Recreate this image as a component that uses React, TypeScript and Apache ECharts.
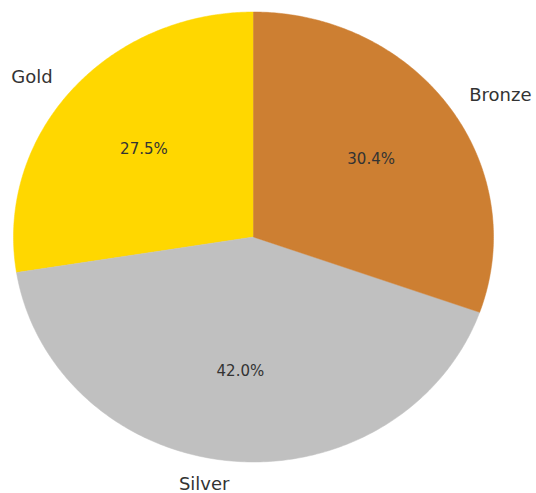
import React, { useEffect, useRef } from "react";
import * as echarts from "echarts";

const categories = ["Gold", "Silver", "Bronze"];
const values = [27.5, 42.0, 30.4];
const colors = ["#FFD700", "#C0C0C0", "#CD7F32"];

const CX = 253.5;
const CY = 237;
const RX = 240;
const RY = 225;
const START = 90;

export default function App() {
  const ref = useRef<HTMLDivElement>(null);
  useEffect(() => {
    document.body.style.margin = "0";
    const chart = echarts.init(ref.current!, null, { renderer: "svg" });
    const total = values.reduce((a, b) => a + b, 0);
    const starts: number[] = [];
    let acc = 0;
    values.forEach((v) => {
      starts.push(START + (acc / total) * 360);
      acc += v;
    });
    const pt = (deg: number, f: number) => {
      const r = (deg * Math.PI) / 180;
      return [CX + Math.cos(r) * RX * f, CY - Math.sin(r) * RY * f];
    };
    chart.setOption({
      animation: false,
      series: [
        {
          type: "custom",
          coordinateSystem: "none",
          data: values.map((v, i) => ({ value: v, name: categories[i] })),
          renderItem: (params: any, api: any) => {
            const i = params.dataIndex;
            const v = values[i];
            const a0 = starts[i];
            const a1 = a0 + (v / total) * 360;
            const pts: number[][] = [[CX, CY]];
            const steps = 200;
            for (let k = 0; k <= steps; k++) {
              pts.push(pt(a0 + ((a1 - a0) * k) / steps, 1));
            }
            const mid = (a0 + a1) / 2;
            const lp = pt(mid, 1.1);
            const pp = pt(mid, 0.6);
            const left = Math.cos((mid * Math.PI) / 180) < 0;
            return {
              type: "group",
              children: [
                {
                  type: "polygon",
                  shape: { points: pts },
                  style: { fill: colors[i], stroke: colors[i], lineWidth: 0.5 },
                },
                {
                  type: "text",
                  x: lp[0],
                  y: lp[1],
                  style: {
                    text: categories[i],
                    fontFamily: "DejaVu Sans",
                    fontSize: 18,
                    fill: "#333333",
                    align: left ? "right" : "left",
                    verticalAlign: "middle",
                  },
                },
                {
                  type: "text",
                  x: pp[0],
                  y: pp[1],
                  style: {
                    text: ((v / total) * 100).toFixed(1) + "%",
                    fontFamily: "DejaVu Sans",
                    fontSize: 15,
                    fill: "#333333",
                    align: "center",
                    verticalAlign: "middle",
                  },
                },
              ],
            };
          },
        },
      ],
    });
    return () => chart.dispose();
  }, []);
  return <div ref={ref} style={{ width: 536, height: 493, background: "#fff" }} />;
}
